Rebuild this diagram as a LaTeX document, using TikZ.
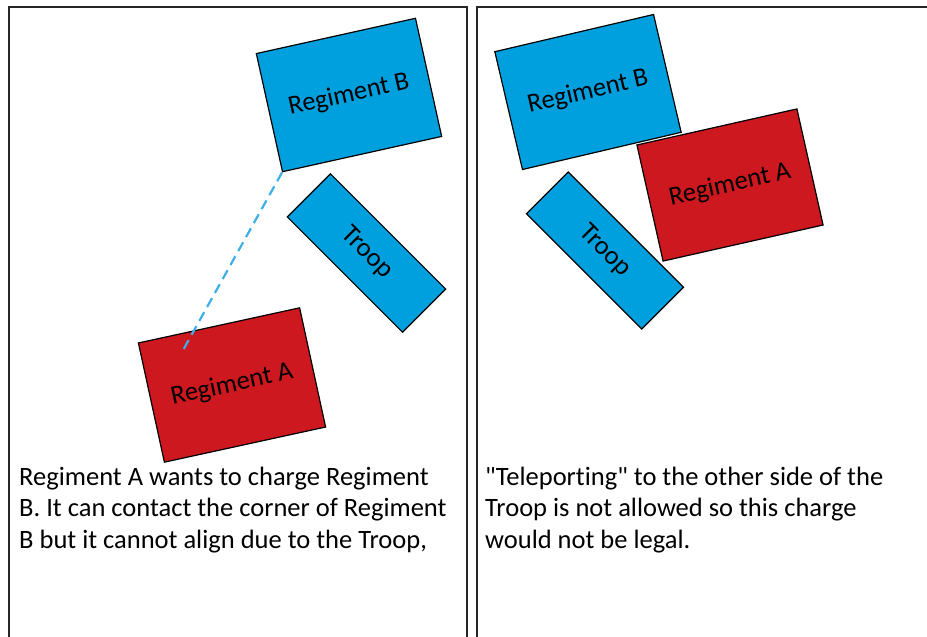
\documentclass[tikz,border=0pt]{standalone}
\usepackage{fontspec}
\setmainfont{Carlito}
\newfontfamily\unitfont{Carlito}[Ligatures=NoCommon]
\definecolor{regblue}{RGB}{0,160,223}
\definecolor{regred}{RGB}{204,24,30}
\definecolor{chargeblue}{RGB}{60,175,230}
\begin{document}
\begin{tikzpicture}[x=1pt, y=1pt,
	unit/.style={draw=black, line width=1.2pt, inner sep=0pt, font=\unitfont\fontsize{26.5}{30}\selectfont},
	regiment/.style={unit, minimum width=163pt, minimum height=121pt},
	troop/.style={unit, fill=regblue, minimum width=163pt, minimum height=61pt},
	panel/.style={draw=black!85, line width=1.6pt},
	caption/.style={anchor=base west, inner sep=0pt, align=left, font=\unitfont\fontsize{26.5}{31.7}\selectfont}]
	\useasboundingbox (0,0) rectangle (927,-637);
	% frames of the two panels
	\draw[panel] (9,-640) -- (9,-7) -- (467,-7) -- (467,-640);
	\draw[panel] (477,-640) -- (477,-7) -- (930,-7);
	% left panel
	\node[regiment, fill=regblue, rotate=12.5] (B) at (349,-95) {Regiment B};
	\node[troop, rotate=-45] (T) at (366.5,-253) {Troop};
	\node[regiment, fill=regred, rotate=12.3, minimum width=165pt, minimum height=122pt] (A) at (232,-385) {Regiment A};
	\coordinate (Ac) at (182,-352);
	\draw[chargeblue, line width=2.2pt, dash pattern=on 10pt off 6pt] (B.south west) -- (Ac);
	% base of the last line
	\node[caption] (textL) at (19,-548.4) {Regiment A wants to charge Regiment\\B. It can contact the corner of Regiment\\B but it cannot align due to the Troop,};
	% right panel
	\node[regiment, fill=regblue, rotate=13.2] (B2) at (588,-92) {Regiment B};
	\node[troop, rotate=-45, minimum height=59pt] (T2) at (605,-250.5) {Troop};
	\node[regiment, fill=regred, rotate=12.7, minimum width=164pt, minimum height=119pt] (A2) at (730,-185) {Regiment A};
	\node[caption] (textR) at (485,-548.4) {"Teleporting" to the other side of the\\Troop is not allowed so this charge\\would not be legal.};
\end{tikzpicture}
\end{document}
